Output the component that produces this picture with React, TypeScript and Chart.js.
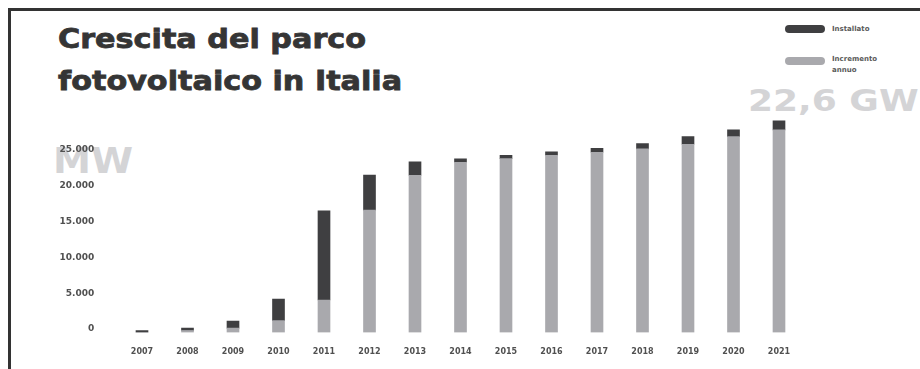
import React, { useEffect, useRef } from "react";
import { Chart, registerables } from "chart.js";

Chart.register(...registerables);

// ---- data ----
const years = ["2007", "2008", "2009", "2010", "2011", "2012", "2013", "2014", "2015", "2016", "2017", "2018", "2019", "2020", "2021"];
// light (bottom) segment
const incrementoAnnuo = [0, 280, 600, 1650, 4540, 17100, 21960, 23780, 24280, 24750, 25170, 25640, 26290, 27350, 28290];
// dark (top) segment
const installato = [280, 350, 1000, 3030, 12460, 4900, 1860, 460, 470, 470, 560, 740, 1060, 940, 1260];
const yTicks = [0, 5000, 10000, 15000, 20000, 25000];
const yTickLabels = ["0", "5.000", "10.000", "15.000", "20.000", "25.000"];

const title1 = "Crescita del parco";
const title2 = "fotovoltaico in Italia";
const unitLabel = "MW";
const totalLabel = "22,6 GW";
const legendDark = "Installato";
const legendLight = ["Incremento", "annuo"];

const DARK = "#3f3f41";
const LIGHT = "#a9a9ad";
const FONT = "'DejaVu Sans', sans-serif";

export default function App() {
  const ref = useRef<HTMLCanvasElement | null>(null);

  useEffect(() => {
    if (!ref.current) return;
    const chart = new Chart(ref.current, {
      type: "bar",
      data: {
        labels: years,
        datasets: [
          { label: "Incremento annuo", data: incrementoAnnuo, backgroundColor: LIGHT, barThickness: 12, borderWidth: 0 },
          { label: "Installato", data: installato, backgroundColor: DARK, barThickness: 12, borderWidth: 0 },
        ],
      },
      options: {
        responsive: false,
        animation: false,
        layout: { padding: { left: 0, top: 106.7, right: 118.25, bottom: 6.5 } },
        plugins: { legend: { display: false }, tooltip: { enabled: false }, title: { display: false } },
        scales: {
          x: {
            stacked: true,
            grid: { display: false, drawTicks: false },
            border: { display: false },
            ticks: { color: "#505050", font: { family: FONT, size: 8, weight: "bold" }, padding: 15, maxRotation: 0 },
            afterFit: (s: any) => { s.height = 30; },
          },
          y: {
            stacked: true,
            min: 0,
            max: 30000,
            grid: { display: false, drawTicks: false },
            border: { display: false },
            afterBuildTicks: (s: any) => { s.ticks = yTicks.map((v) => ({ value: v })); },
            ticks: {
              color: "#505050",
              font: { family: FONT, size: 9, weight: "bold" },
              padding: 25,
              labelOffset: -3.5,
              callback: (v: any) => {
                const i = yTicks.indexOf(Number(v));
                return i >= 0 ? yTickLabels[i] : "";
              },
            },
            afterFit: (s: any) => { s.width = 108.25; },
          },
        },
      },
    });
    return () => chart.destroy();
  }, []);

  const pill = (color: string, top: number) => (
    <div style={{ position: "absolute", left: 774, top, width: 40, height: 8, borderRadius: 4, background: color }} />
  );

  return (
    <div
      style={{
        position: "fixed",
        left: 8,
        top: 8,
        width: 912,
        height: 361,
        borderTop: "3px solid #333",
        borderLeft: "3px solid #333",
        boxSizing: "border-box",
        overflow: "hidden",
        background: "#fff",
        fontFamily: FONT,
      }}
    >
      <div
        style={{
          position: "absolute",
          left: 47,
          top: 6.9,
          fontSize: 27,
          lineHeight: "42px",
          fontWeight: "bold",
          color: "#353535",
          whiteSpace: "nowrap",
          transform: "scaleX(1.12)",
          transformOrigin: "left top",
          WebkitTextStroke: "0.8px #353535",
        }}
      >
        <div>{title1}</div>
        <div>{title2}</div>
      </div>
      <div
        style={{
          position: "absolute",
          left: 42,
          top: 131.5,
          fontSize: 36,
          lineHeight: "36px",
          fontWeight: "bold",
          color: "#d4d4d6",
          whiteSpace: "nowrap",
          transform: "scaleX(1.06)",
          transformOrigin: "left top",
        }}
      >
        {unitLabel}
      </div>
      <div
        style={{
          position: "absolute",
          left: 737,
          top: 75.1,
          fontSize: 30,
          lineHeight: "30px",
          fontWeight: "bold",
          color: "#d4d4d6",
          whiteSpace: "nowrap",
          transform: "scaleX(1.2)",
          transformOrigin: "left top",
        }}
      >
        {totalLabel}
      </div>
      {pill(DARK, 14)}
      {pill(LIGHT, 46)}
      <div style={{ position: "absolute", left: 821, top: 13, fontSize: 7, lineHeight: "11px", fontWeight: "bold", color: "#5a5a5a", whiteSpace: "nowrap" }}>
        {legendDark}
      </div>
      <div style={{ position: "absolute", left: 821, top: 43, fontSize: 7, lineHeight: "11px", fontWeight: "bold", color: "#5a5a5a", whiteSpace: "nowrap" }}>
        <div>{legendLight[0]}</div>
        <div>{legendLight[1]}</div>
      </div>
      <canvas ref={ref} width={909} height={358} style={{ position: "absolute", left: 0, top: 0, width: 909, height: 358 }} />
    </div>
  );
}
